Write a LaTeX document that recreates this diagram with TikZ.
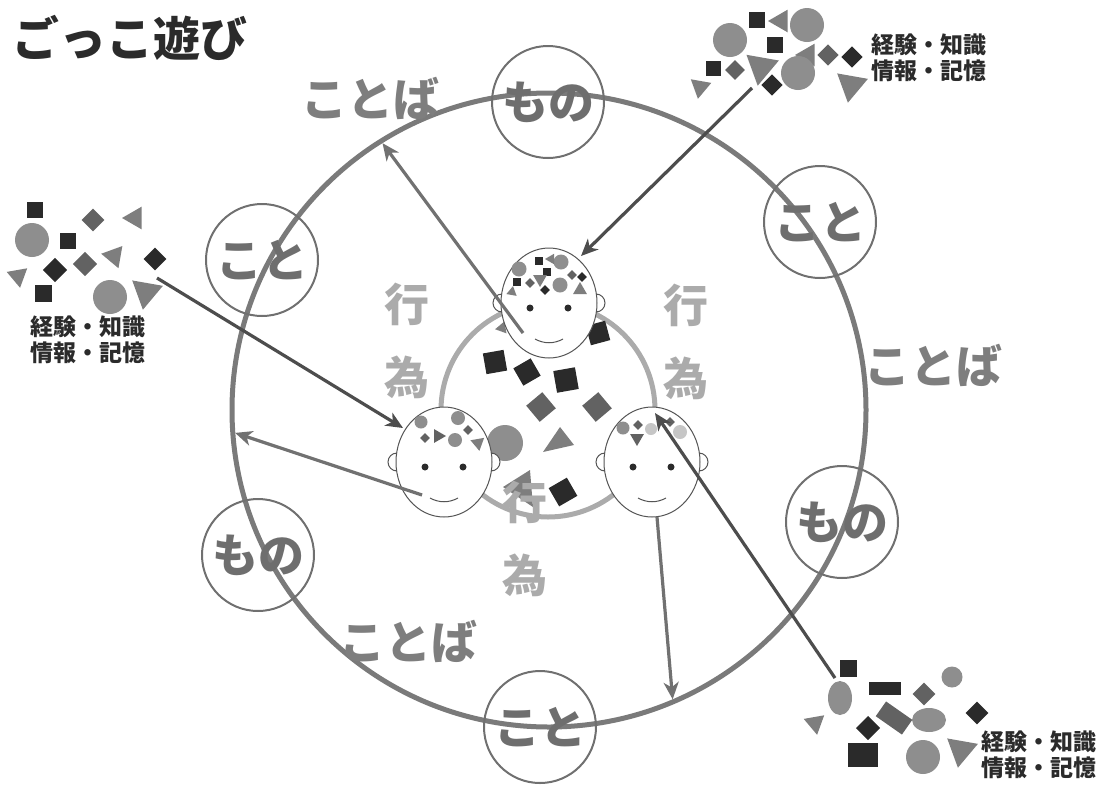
\documentclass[tikz,border=0pt]{standalone}
\usepackage{fontspec}
\setmainfont{Noto Sans CJK JP}
\usetikzlibrary{arrows.meta,shapes.geometric}
\definecolor{kuro}{HTML}{2A2A2A}
\definecolor{haiiro}{HTML}{626262}
\definecolor{maruiro}{HTML}{8E8E8E}
\definecolor{sankaku}{HTML}{7E7E7E}
\definecolor{usuiro}{HTML}{C6C6C6}
\definecolor{wairo}{HTML}{7A7A7A}
\definecolor{waku}{HTML}{707070}
\definecolor{moji}{HTML}{6E6E6E}
\definecolor{kotobairo}{HTML}{7E7E7E}
\definecolor{kouiiro}{HTML}{ABABAB}
\definecolor{yajirushi}{HTML}{4D4D4D}
\definecolor{yajirushiB}{HTML}{717171}
\definecolor{sumi}{HTML}{2B2B2B}
% small pieces: square (side, angle), triangle (radius, angle), dot
\newcommand{\ksq}[5][kuro]{\fill[#1,shift={(#2,#3)},rotate=#5] (-#4/2,-#4/2) rectangle (#4/2,#4/2);}
\newcommand{\ktri}[5][sankaku]{\fill[#1,shift={(#2,#3)},rotate=#5] (0:#4pt) -- (120:#4pt) -- (240:#4pt) -- cycle;}
\newcommand{\kcirc}[4][maruiro]{\fill[#1] (#2,#3) circle[radius=#4pt];}
% a face: name, x, y
\newcommand{\kao}[3]{%
  \filldraw[kaosen] (#2-47,#3) circle[radius=9pt] (#2+47,#3) circle[radius=9pt];
  \node[atama] (#1) at (#2,#3) {};
  \fill[sumi] (#2-19,#3+5) circle[radius=3.5pt] (#2+19,#3+5) circle[radius=3.5pt];
  \draw[kaosen] (#2-14,#3+36) .. controls (#2-5,#3+41) and (#2+5,#3+41) .. (#2+14,#3+36);
}

\begin{document}
\begin{tikzpicture}[
  x=1pt,
  y=-1pt,
  ring/.style={circle, draw=wairo, line width=5pt, minimum size=634pt, inner sep=0pt, outer sep=0pt},
  maru/.style={circle, draw=waku, line width=2pt, minimum size=112pt, inner sep=0pt,
    text=moji, font=\bfseries\fontsize{46}{46}\selectfont},
  kotoba/.style={text=kotobairo, inner sep=0pt, font=\bfseries\fontsize{46}{46}\selectfont},
  koui/.style={text=kouiiro, align=center, inner sep=0pt, font=\bfseries\fontsize{45}{73}\selectfont},
  memo/.style={text=sumi, align=left, inner sep=0pt, font=\bfseries\fontsize{23}{26}\selectfont},
  atama/.style={ellipse, draw=sumi!80, fill=white, line width=1pt, minimum width=96pt, minimum height=110pt, inner sep=0pt},
  kaosen/.style={draw=sumi!80, fill=white, line width=1pt},
  ya/.style={yajirushi, line width=3.2pt, -{Stealth[length=17pt,width=15pt,inset=5pt]}},
  yaB/.style={yajirushiB, line width=3.2pt, shorten >=2.5pt, -{Stealth[length=17pt,width=15pt,inset=5pt]}}
]
  \useasboundingbox (0,0) rectangle (1103,785);

  % ---- title ----
  \node[anchor=west, text=sumi, inner sep=0pt, font=\bfseries\fontsize{47}{47}\selectfont] (daimei) at (12,38) {ごっこ遊び};

  % ---- outer ring with its stations ----
  \node[ring] (wa) at (549,410) {};
  \node[maru] (monoUe) at (548,102) {もの};
  \node[maru] (kotoMigi) at (820,222) {こと};
  \node[maru] (kotoHidari) at (262,260) {こと};
  \node[maru] (monoMigi) at (842,522) {もの};
  \node[maru] (monoHidari) at (258,555) {もの};
  \node[maru] (kotoShita) at (540,727) {こと};
  \node[kotoba] (kotobaUe) at (370,98) {ことば};
  \node[kotoba] (kotobaMigi) at (933,365) {ことば};
  \node[kotoba] (kotobaShita) at (408,641) {ことば};

  % ---- inner ring ----
  \draw[kouiiro, line width=5pt] (548,410) circle[radius=107pt];
  \node[koui] (kouiHidari) at (407,341) {行\\為};
  \node[koui] (kouiMigi) at (686,342) {行\\為};

  % ---- things passed around in the middle ----
  \ksq{598}{333}{20}{15}
  \ksq{495}{362}{21}{10}
  \ksq{527}{372}{20}{30}
  \ksq{566}{380}{22}{10}
  \ksq[haiiro]{541}{407}{21}{40}
  \ksq[haiiro]{597}{407}{21}{40}
  \kcirc{505}{443}{18}
  \fill[sankaku] (543,452) -- (574,445) -- (560,427) -- cycle;
  \fill[sankaku] (503,487) -- (530,470) -- (533,507) -- cycle;
  \ksq{563}{492}{21}{30}
  \ktri{502}{328}{7}{190}
  \node[koui] (kouiShita) at (525,539) {行\\為};

  % ---- the three faces ----
  \kao{kaoA}{549}{303}
  \kao{kaoB}{444}{462}
  \kao{kaoC}{652}{462}

  % ---- what each one has in mind ----
  \kcirc{519}{269}{7.5}
  \kcirc{561}{262}{7.5}
  \kcirc{560}{285}{7.5}
  \ksq{539}{261}{8}{0}
  \ksq{547}{272}{8}{0}
  \ksq{517}{282}{8}{0}
  \ksq[haiiro]{530}{283}{7}{45}
  \ksq{545}{290}{7}{45}
  \ksq[haiiro]{572}{275}{7}{45}
  \ksq{582}{277}{7}{45}
  \ktri{551}{259}{6}{180}
  \ktri{540}{279}{8}{-90}
  \ktri{512}{292}{6}{200}
  \ktri{580}{290}{8}{-30}

  \kcirc{421}{422}{6.5}
  \kcirc{458}{418}{7}
  \kcirc{455}{440}{7}
  \ksq[haiiro]{468}{430}{7}{45}
  \ksq[haiiro]{425}{438}{7}{45}
  \ktri[haiiro]{438}{436}{8}{0}
  \ktri{478}{443}{8}{-80}

  \kcirc{623}{428}{6.5}
  \kcirc[usuiro]{651}{429}{6}
  \kcirc[usuiro]{680}{432}{7}
  \ksq[haiiro]{638}{425}{7}{45}
  \ktri[haiiro]{637}{438}{8}{-90}
  \ksq[haiiro]{670}{422}{7}{45}

  % ---- upper right store ----
  \ksq{757}{20}{16}{0}
  \ktri{781}{21}{13}{180}
  \kcirc{807}{25}{17}
  \kcirc{730}{40}{17}
  \ksq{775}{45}{16}{0}
  \ktri{808}{55}{13}{180}
  \ksq[haiiro]{828}{55}{15}{45}
  \ksq{852}{57}{15}{45}
  \ksq{713}{68}{15}{0}
  \ksq[haiiro]{735}{70}{14}{45}
  \ktri{761}{67}{19}{-100}
  \kcirc{798}{73}{17}
  \ksq{772}{85}{15}{45}
  \ktri{700}{87}{12}{-100}
  \ktri{851}{85}{18}{-100}
  \node[memo] (kiokuUe) at (929,58) {経験・知識\\情報・記憶};

  % ---- left store ----
  \ksq{35}{210}{16}{0}
  \ksq[haiiro]{93}{220}{16}{45}
  \ktri{135}{218}{13}{180}
  \kcirc{32}{240}{17}
  \ksq{68}{241}{16}{0}
  \ktri{114}{256}{13}{170}
  \ksq[haiiro]{85}{264}{17}{45}
  \ksq{55}{270}{17}{45}
  \ksq{155}{259}{16}{45}
  \ktri{18}{276}{12}{-80}
  \ksq{43}{293}{17}{0}
  \kcirc{110}{297}{17}
  \ktri{146}{292}{18}{-100}
  \node[memo] (kiokuHidari) at (88,340) {経験・知識\\情報・記憶};

  % ---- lower right store ----
  \ksq{848}{668}{17}{0}
  \fill[maruiro] (840,698) ellipse[x radius=12pt, y radius=17pt];
  \fill[kuro] (869,682) rectangle (901,695);
  \kcirc{952}{677}{10.5}
  \ksq[haiiro]{924}{694}{16}{45}
  \ktri{815}{723}{12}{-80}
  \fill[haiiro, shift={(894,718)}, rotate=-35] (-16,-9) rectangle (16,9);
  \fill[maruiro] (929,720) ellipse[x radius=17pt, y radius=12pt];
  \ksq{977}{713}{16}{45}
  \ksq{868}{728}{17}{45}
  \fill[kuro] (848,743) rectangle (878,767);
  \kcirc{923}{757}{17}
  \ktri{961}{750}{18}{-100}
  \node[memo] (kiokuShita) at (1039,755) {経験・知識\\情報・記憶};

  % ---- arrows ----
  \coordinate (deA) at (752,88);
  \coordinate (hairiA) at (581,256);
  \coordinate (deB) at (157,278);
  \coordinate (hairiB) at (403,428);
  \coordinate (deC) at (835,678);
  \coordinate (hairiC) at (655,413);
  \coordinate (kuchiA) at (523,333);
  \coordinate (kuchiB) at (422,495);
  \coordinate (agoC) at (657,517);

  \draw[ya] (deA) -- (hairiA);
  \draw[ya] (deB) -- (hairiB);
  \draw[ya] (deC) -- (hairiC);
  \draw[yaB] (kuchiA) -- (wa.122.8);
  \draw[yaB] (kuchiB) -- (wa.184);
  \draw[yaB] (agoC) -- (wa.293.8);
\end{tikzpicture}
\end{document}
